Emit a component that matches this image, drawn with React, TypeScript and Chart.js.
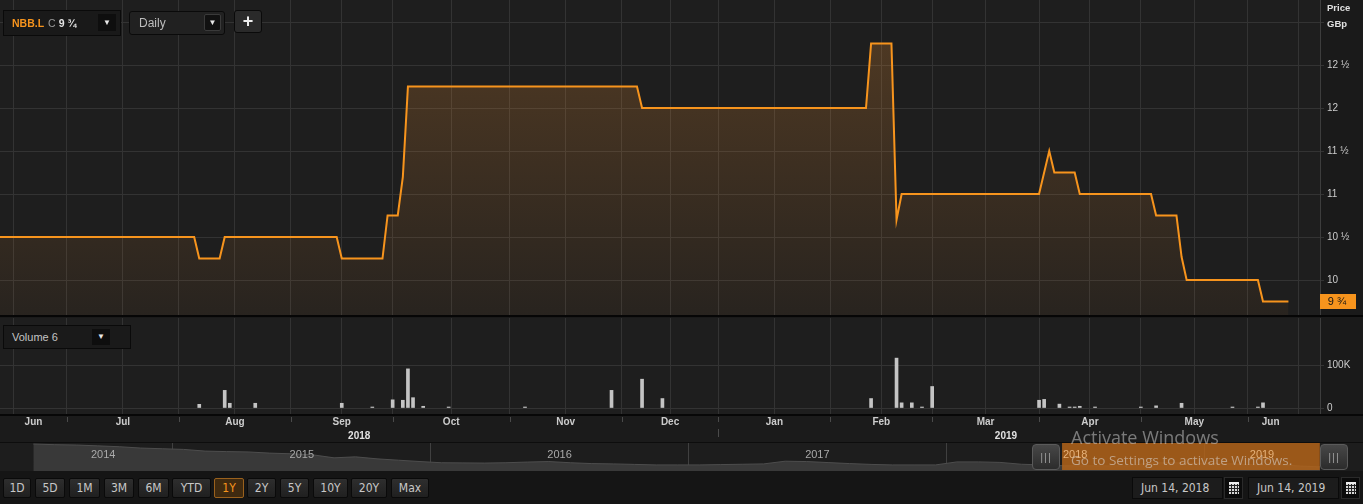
import React, { useEffect, useRef } from "react";
import { Chart, registerables } from "chart.js";

Chart.register(...registerables);

// ---------- calendar (LSE trading days) ----------
const HOLIDAYS = ["2018-08-27", "2018-12-25", "2018-12-26", "2019-01-01", "2019-04-19", "2019-04-22", "2019-05-06", "2019-05-27"];
const CAL_FIRST = "2018-06-01";
const CAL_LAST = "2019-07-31";
const RANGE_START = "2018-06-14";
const RANGE_END = "2019-06-14";

const MONTH_STARTS = ["2018-06-01", "2018-07-01", "2018-08-01", "2018-09-01", "2018-10-01", "2018-11-01", "2018-12-01", "2019-01-01", "2019-02-01", "2019-03-01", "2019-04-01", "2019-05-01", "2019-06-01", "2019-07-01"];
const MONTH_NAMES = ["Jun", "Jul", "Aug", "Sep", "Oct", "Nov", "Dec", "Jan", "Feb", "Mar", "Apr", "May", "Jun"];
const YEAR_STARTS = ["2018-01-01", "2019-01-01", "2020-01-01"];
const YEAR_NAMES = ["2018", "2019"];

// ---------- price (GBp) ----------
const priceDates = ["2018-06-12", "2018-08-06", "2018-08-07", "2018-08-13", "2018-08-14", "2018-09-14", "2018-09-17", "2018-09-27", "2018-09-28", "2018-10-02", "2018-10-03", "2018-10-04", "2018-12-06", "2018-12-07", "2019-02-12", "2019-02-13", "2019-02-19", "2019-02-20", "2019-02-21", "2019-04-01", "2019-04-03", "2019-04-04", "2019-04-10", "2019-04-11", "2019-05-03", "2019-05-07", "2019-05-13", "2019-05-14", "2019-05-15", "2019-06-05", "2019-06-06", "2019-06-13"];
const priceValues = [10.5, 10.5, 10.25, 10.25, 10.5, 10.5, 10.25, 10.25, 10.75, 10.75, 11.2, 12.25, 12.25, 12.0, 12.0, 12.75, 12.75, 10.7, 11.0, 11.0, 11.5, 11.25, 11.25, 11.0, 11.0, 10.75, 10.75, 10.27, 10.0, 10.0, 9.75, 9.75];
const priceTicks = [10, 10.5, 11, 11.5, 12, 12.5, 13];

// ---------- volume ----------
const volumeDates = ["2018-08-07", "2018-08-14", "2018-08-15", "2018-08-22", "2018-09-17", "2018-09-25", "2018-10-01", "2018-10-03", "2018-10-04", "2018-10-05", "2018-10-09", "2018-10-16", "2018-11-06", "2018-11-29", "2018-12-07", "2018-12-13", "2019-02-13", "2019-02-20", "2019-02-21", "2019-02-25", "2019-02-27", "2019-03-01", "2019-04-01", "2019-04-02", "2019-04-05", "2019-04-09", "2019-04-10", "2019-04-11", "2019-04-16", "2019-05-01", "2019-05-07", "2019-05-14", "2019-05-29", "2019-06-05", "2019-06-06"];
const volumeValues = [8600, 41000, 11000, 11000, 11000, 1000, 19000, 18000, 91000, 24000, 4000, 2000, 600, 41000, 67000, 22000, 22000, 116000, 12000, 12000, 1500, 50000, 18000, 20000, 9000, 2000, 1500, 4000, 1500, 1500, 5000, 11000, 2000, 1500, 12000];
const volumeTicks = [0, 100000];

// ---------- navigator (full history, GBp) ----------
const navMonths = [
  "2014-06", "2014-07", "2014-08", "2014-09", "2014-10", "2014-11", "2014-12",
  "2015-01", "2015-02", "2015-03", "2015-04", "2015-05", "2015-06", "2015-07", "2015-08", "2015-09", "2015-10", "2015-11", "2015-12",
  "2016-01", "2016-02", "2016-03", "2016-04", "2016-05", "2016-06", "2016-07", "2016-08", "2016-09", "2016-10", "2016-11", "2016-12",
  "2017-01", "2017-02", "2017-03", "2017-04", "2017-05", "2017-06", "2017-07", "2017-08", "2017-09", "2017-10", "2017-11", "2017-12",
  "2018-01", "2018-02", "2018-03", "2018-04", "2018-05", "2018-06", "2018-07", "2018-08", "2018-09", "2018-10", "2018-11", "2018-12",
  "2019-01", "2019-02", "2019-03", "2019-04", "2019-05", "2019-06",
];
const navValues = [
  23.4, 23.0, 22.8, 22.3, 21.8, 21.0, 20.6,
  20.2, 19.2, 18.9, 18.7, 18.0, 17.6, 17.0, 15.2, 15.8, 14.6, 13.8, 13.0,
  12.3, 12.2, 12.1, 12.3, 12.7, 13.0, 12.3, 11.8, 11.6, 11.3, 11.0, 11.0,
  11.0, 11.2, 11.4, 11.6, 13.2, 13.0, 12.4, 11.8, 11.3, 11.0, 11.0, 11.0,
  12.8, 12.8, 12.5, 11.4, 11.0, 10.5, 10.5, 10.4, 10.4, 12.25, 12.25, 12.0,
  12.0, 11.5, 11.0, 11.1, 10.3, 9.8,
];
const navYears = ["2014", "2015", "2016", "2017", "2018", "2019"];

const rangeButtons = ["1D", "5D", "1M", "3M", "6M", "YTD", "1Y", "2Y", "5Y", "10Y", "20Y", "Max"];
const activeRange = "1Y";

// ---------- styling constants ----------
const ORANGE = "#f7941d";
const GRID = "#333333";
const LABEL = "#cccccc";
const FONT = '"Liberation Sans", Arial, sans-serif';
const NARROW = '"Liberation Sans Narrow", "DejaVu Sans Condensed", "Liberation Sans", sans-serif';
const X_MIN = -1.15;
const X_MAX = 258.2;
const P_MIN = 9.593;
const P_MAX = 13.256;
const V_MIN = -13950;
const V_MAX = 209300;
const NAV_MIN = 2014.329;
const NAV_MAX = 2019.45;
const NAV_YMIN = 7.4;
const NAV_YMAX = 24;

// ---------- helpers ----------
function buildCalendar(): string[] {
  const out: string[] = [];
  const d = new Date(CAL_FIRST + "T00:00:00Z");
  const end = new Date(CAL_LAST + "T00:00:00Z");
  while (d <= end) {
    const wd = d.getUTCDay();
    const s = d.toISOString().slice(0, 10);
    if (wd !== 0 && wd !== 6 && HOLIDAYS.indexOf(s) < 0) out.push(s);
    d.setUTCDate(d.getUTCDate() + 1);
  }
  return out;
}
const CAL = buildCalendar();
const BASE = CAL.indexOf(RANGE_START);
function tradeIdx(s: string): number {
  let i = CAL.findIndex((c) => c >= s);
  if (i < 0) i = CAL.length;
  return i - BASE;
}
const END_IDX = tradeIdx(RANGE_END);
const monthBounds = MONTH_STARTS.map(tradeIdx);
const gridVals: number[] = [];
for (let i = 0; i < monthBounds.length - 1; i++) {
  gridVals.push(monthBounds[i]);
  gridVals.push((monthBounds[i] + monthBounds[i + 1]) / 2);
}
const yearBounds = YEAR_STARTS.map(tradeIdx);

function fmtPrice(v: number): string {
  const whole = Math.floor(v + 1e-9);
  const frac = Math.round((v - whole) * 4);
  const f = ["", "¼", "½", "¾"][frac] || "";
  return f ? `${whole} ${f}` : `${whole}`;
}
function monthToYear(m: string): number {
  const [y, mo] = m.split("-").map(Number);
  return y + (mo - 0.5) / 12;
}
function dateToYear(s: string): number {
  const d = new Date(s + "T00:00:00Z");
  const y = d.getUTCFullYear();
  const start = Date.UTC(y, 0, 1);
  const next = Date.UTC(y + 1, 0, 1);
  return y + (d.getTime() - start) / (next - start);
}
function noPad(s: any) {
  s.paddingTop = 0;
  s.paddingBottom = 0;
  s.paddingLeft = 0;
  s.paddingRight = 0;
}

// ---------- plugins ----------
const pricePanelPlugin = {
  id: "pricePanel",
  beforeDraw(chart: any) {
    const { ctx, chartArea: ca, width, height } = chart;
    ctx.save();
    ctx.fillStyle = "#1a1a1a";
    ctx.fillRect(0, 0, width, height);
    ctx.fillStyle = "#1e1e1e";
    ctx.fillRect(ca.left, ca.top, ca.right - ca.left, ca.bottom - ca.top);
    ctx.restore();
  },
  afterDraw(chart: any) {
    const { ctx, chartArea: ca } = chart;
    const last = priceValues[priceValues.length - 1];
    const y = chart.scales.y.getPixelForValue(last);
    ctx.save();
    ctx.fillStyle = ORANGE;
    ctx.fillRect(ca.right, Math.round(y) - 7, 36, 15);
    ctx.fillStyle = "#151515";
    ctx.font = `11px ${FONT}`;
    ctx.textAlign = "center";
    ctx.textBaseline = "middle";
    ctx.fillText(fmtPrice(last), ca.right + 17, Math.round(y) + 0.5);
    ctx.restore();
  },
};

const volumePanelPlugin = {
  id: "volumePanel",
  beforeDraw(chart: any) {
    const { ctx, chartArea: ca, width, height } = chart;
    ctx.save();
    ctx.fillStyle = "#1a1a1a";
    ctx.fillRect(0, 0, width, height);
    ctx.fillStyle = "#1e1e1e";
    ctx.fillRect(ca.left, ca.top, ca.right - ca.left, ca.bottom - ca.top);
    ctx.restore();
  },
  afterDraw(chart: any) {
    const { ctx, chartArea: ca, width, height } = chart;
    const xs = chart.scales.x;
    const b = ca.bottom;
    ctx.save();
    ctx.fillStyle = "#1b1b1b";
    ctx.fillRect(0, b, width, height - b);
    ctx.fillStyle = "#070707";
    ctx.fillRect(0, b, width, 2);
    ctx.fillStyle = "#0d0d0d";
    ctx.fillRect(0, height - 1, width, 1);
    ctx.strokeStyle = "#4a4a4a";
    ctx.lineWidth = 1;
    monthBounds.forEach((m) => {
      if (m <= X_MIN || m >= X_MAX) return;
      const px = Math.round(xs.getPixelForValue(m)) + 0.5;
      ctx.beginPath();
      ctx.moveTo(px, b + 3);
      ctx.lineTo(px, b + 8);
      ctx.stroke();
    });
    ctx.fillStyle = LABEL;
    ctx.font = `bold 10px ${FONT}`;
    ctx.textAlign = "center";
    ctx.textBaseline = "middle";
    for (let i = 0; i < MONTH_NAMES.length; i++) {
      const s = Math.max(monthBounds[i], X_MIN);
      const e = Math.min(monthBounds[i + 1], END_IDX);
      if (e <= s) continue;
      ctx.fillText(MONTH_NAMES[i], xs.getPixelForValue((s + e) / 2), b + 8.5);
    }
    yearBounds.forEach((yb) => {
      if (yb <= X_MIN || yb >= X_MAX) return;
      const px = Math.round(xs.getPixelForValue(yb)) + 0.5;
      ctx.strokeStyle = "#4a4a4a";
      ctx.beginPath();
      ctx.moveTo(px, b + 15);
      ctx.lineTo(px, b + 23);
      ctx.stroke();
    });
    ctx.fillStyle = "#e2e2e2";
    ctx.font = `bold 10px ${FONT}`;
    for (let i = 0; i < YEAR_NAMES.length; i++) {
      const s = Math.max(yearBounds[i], X_MIN);
      const e = Math.min(yearBounds[i + 1], END_IDX);
      if (e <= s) continue;
      ctx.fillText(YEAR_NAMES[i], xs.getPixelForValue((s + e) / 2), b + 22);
    }
    ctx.restore();
  },
};

const navPlugin = {
  id: "navPanel",
  beforeDraw(chart: any) {
    const { ctx, width, height } = chart;
    ctx.save();
    ctx.fillStyle = "#1d1d1d";
    ctx.fillRect(0, 0, width, height);
    ctx.restore();
  },
  afterDatasetsDraw(chart: any) {
    const { ctx, chartArea: ca } = chart;
    const xs = chart.scales.x;
    const x0 = xs.getPixelForValue(dateToYear(RANGE_START));
    const x1 = Math.min(xs.getPixelForValue(dateToYear(RANGE_END)), ca.right);
    ctx.save();
    ctx.fillStyle = "rgba(180,100,25,0.84)";
    ctx.fillRect(x0, 0, x1 - x0, chart.height - 1);
    ctx.restore();
  },
  afterDraw(chart: any) {
    const { ctx } = chart;
    const xs = chart.scales.x;
    const first = monthToYear(navMonths[0]);
    const selStart = dateToYear(RANGE_START);
    ctx.save();
    ctx.font = `11px ${FONT}`;
    ctx.textAlign = "center";
    ctx.textBaseline = "middle";
    navYears.forEach((y) => {
      const yr = Number(y);
      const s = Math.max(yr, first, NAV_MIN);
      const e = Math.min(yr + 1, NAV_MAX);
      if (e <= s) return;
      const c = (s + e) / 2;
      ctx.fillStyle = c > selStart ? "#e6b27a" : "#a9a9a9";
      ctx.fillText(y, xs.getPixelForValue(c), 12);
    });
    ctx.restore();
  },
};

// ---------- components ----------
function PriceChart() {
  const ref = useRef<HTMLCanvasElement | null>(null);
  useEffect(() => {
    if (!ref.current) return;
    const chart = new Chart(ref.current, {
      type: "line",
      data: {
        datasets: [
          {
            data: priceDates.map((d, i) => ({ x: tradeIdx(d), y: priceValues[i] })),
            borderColor: ORANGE,
            borderWidth: 2,
            pointRadius: 0,
            tension: 0,
            fill: "start",
            backgroundColor: (c: any) => {
              const ch = c.chart;
              const ca = ch.chartArea;
              if (!ca) return "rgba(230,140,50,0.15)";
              const g = ch.ctx.createLinearGradient(0, ca.top + 40, 0, ca.bottom);
              g.addColorStop(0, "rgba(230,140,50,0.24)");
              g.addColorStop(1, "rgba(230,140,50,0.05)");
              return g;
            },
          },
        ],
      },
      options: {
        animation: false,
        responsive: false,
        maintainAspectRatio: false,
        layout: { padding: 0 },
        plugins: { legend: { display: false }, tooltip: { enabled: false } },
        scales: {
          x: {
            type: "linear",
            min: X_MIN,
            max: X_MAX,
            afterBuildTicks: (s: any) => {
              s.ticks = gridVals.filter((v) => v > X_MIN && v < X_MAX).map((v) => ({ value: v }));
            },
            afterFit: (s: any) => {
              s.height = 0;
              noPad(s);
            },
            grid: { color: GRID, drawTicks: false },
            ticks: { display: false },
            border: { display: false },
          },
          y: {
            position: "right",
            min: P_MIN,
            max: P_MAX,
            afterBuildTicks: (s: any) => {
              s.ticks = priceTicks.map((v) => ({ value: v }));
            },
            afterFit: (s: any) => {
              s.width = 43;
              noPad(s);
            },
            grid: { color: GRID, tickLength: 4 },
            border: { color: "#3d3d3d" },
            ticks: {
              color: LABEL,
              font: { family: FONT, size: 10 },
              padding: 3,
              callback: (v: any) => (Number(v) >= 13 ? "" : fmtPrice(Number(v))),
            },
          },
        },
      } as any,
      plugins: [pricePanelPlugin],
    });
    return () => chart.destroy();
  }, []);
  return <canvas ref={ref} width={1363} height={315} style={{ position: "absolute", left: 0, top: 0, width: 1363, height: 315 }} />;
}

function VolumeChart() {
  const ref = useRef<HTMLCanvasElement | null>(null);
  useEffect(() => {
    if (!ref.current) return;
    const chart = new Chart(ref.current, {
      type: "bar",
      data: {
        datasets: [
          {
            data: volumeDates.map((d, i) => ({ x: tradeIdx(d), y: volumeValues[i] })),
            backgroundColor: "#c4c4c4",
            barThickness: 3,
            minBarLength: 1,
          },
        ],
      },
      options: {
        animation: false,
        responsive: false,
        maintainAspectRatio: false,
        layout: { padding: { top: 1, left: 0, right: 0, bottom: 0 } },
        plugins: { legend: { display: false }, tooltip: { enabled: false } },
        scales: {
          x: {
            type: "linear",
            min: X_MIN,
            max: X_MAX,
            offset: false,
            afterBuildTicks: (s: any) => {
              s.ticks = gridVals.filter((v) => v > X_MIN && v < X_MAX).map((v) => ({ value: v }));
            },
            afterFit: (s: any) => {
              s.height = 29;
              noPad(s);
            },
            grid: { color: GRID, drawTicks: false, offset: false },
            ticks: { display: false },
            border: { display: false },
          },
          y: {
            position: "right",
            min: V_MIN,
            max: V_MAX,
            afterBuildTicks: (s: any) => {
              s.ticks = volumeTicks.map((v) => ({ value: v }));
            },
            afterFit: (s: any) => {
              s.width = 43;
              noPad(s);
            },
            grid: { color: GRID, tickLength: 4 },
            border: { color: "#3d3d3d" },
            ticks: {
              color: LABEL,
              font: { family: FONT, size: 10 },
              padding: 3,
              callback: (v: any) => (Number(v) === 0 ? "0" : `${Math.round(Number(v) / 1000)}K`),
            },
          },
        },
      } as any,
      plugins: [volumePanelPlugin],
    });
    return () => chart.destroy();
  }, []);
  return <canvas ref={ref} width={1363} height={126} style={{ position: "absolute", left: 0, top: 317, width: 1363, height: 126 }} />;
}

function NavChart() {
  const ref = useRef<HTMLCanvasElement | null>(null);
  useEffect(() => {
    if (!ref.current) return;
    const chart = new Chart(ref.current, {
      type: "line",
      data: {
        datasets: [
          {
            data: navMonths.map((m, i) => ({ x: monthToYear(m), y: navValues[i] })),
            borderColor: "#4d4d4d",
            borderWidth: 1,
            backgroundColor: "#393939",
            fill: "start",
            pointRadius: 0,
            tension: 0,
          },
        ],
      },
      options: {
        animation: false,
        responsive: false,
        maintainAspectRatio: false,
        layout: { padding: 0 },
        plugins: { legend: { display: false }, tooltip: { enabled: false } },
        scales: {
          x: {
            type: "linear",
            min: NAV_MIN,
            max: NAV_MAX,
            afterBuildTicks: (s: any) => {
              s.ticks = navYears.map(Number).filter((v) => v > NAV_MIN && v < NAV_MAX).map((v) => ({ value: v }));
            },
            afterFit: (s: any) => {
              s.height = 0;
              noPad(s);
            },
            grid: { color: "#404040", drawTicks: false },
            ticks: { display: false },
            border: { display: false },
          },
          y: { display: false, min: NAV_YMIN, max: NAV_YMAX },
        },
      } as any,
      plugins: [navPlugin],
    });
    return () => chart.destroy();
  }, []);
  return <canvas ref={ref} width={1320} height={28} style={{ position: "absolute", left: 0, top: 443, width: 1320, height: 28 }} />;
}

function Arrow({ left, top, w, h }: { left: number; top: number; w: number; h: number }) {
  return (
    <div
      style={{
        position: "absolute",
        left,
        top,
        width: w,
        height: h,
        background: "#0e0e0e",
        color: "#e8e8e8",
        fontSize: 8,
        lineHeight: `${h}px`,
        textAlign: "center",
      }}
    >
      ▼
    </div>
  );
}

function Handle({ left }: { left: number }) {
  return (
    <div
      style={{
        position: "absolute",
        left,
        top: 444,
        width: 28,
        height: 26,
        boxSizing: "border-box",
        background: "linear-gradient(#474747, #2c2c2c)",
        border: "1px solid #5a5a5a",
        borderRadius: 4,
        color: "#9a9a9a",
        fontSize: 11,
        lineHeight: "24px",
        textAlign: "center",
        fontFamily: FONT,
        letterSpacing: 1,
      }}
    >
      |||
    </div>
  );
}

function CalIcon({ left }: { left: number }) {
  return (
    <div style={{ position: "absolute", left, top: 477, width: 19, height: 22, background: "#0b0b0b", border: "1px solid #2a2a2a", boxSizing: "border-box" }}>
      <div
        style={{
          position: "absolute",
          left: 4,
          top: 4,
          width: 10,
          height: 12,
          background: "#d8d8d8",
          backgroundImage:
            "repeating-linear-gradient(90deg, transparent 0 2px, #222 2px 3px), repeating-linear-gradient(0deg, transparent 0 2px, #222 2px 3px)",
          borderTop: "2px solid #eee",
          boxSizing: "border-box",
        }}
      />
    </div>
  );
}

const buttonWidths = [28, 30, 31, 30, 31, 39, 30, 29, 29, 35, 36, 38];
const buttonLefts = [3, 35, 69, 104, 138, 172, 214, 247, 280, 313, 351, 391];

export default function App() {
  return (
    <div
      style={{
        position: "relative",
        width: 1363,
        height: 504,
        overflow: "hidden",
        background: "#1a1a1a",
        fontFamily: FONT,
      }}
    >
      <style>{`body{margin:0;background:#1a1a1a;}`}</style>
      <PriceChart />
      <div style={{ position: "absolute", left: 0, top: 315, width: 1363, height: 2, background: "#060606" }} />
      <VolumeChart />
      <NavChart />
      <div style={{ position: "absolute", left: 1320, top: 443, width: 43, height: 28, background: "#1d1d1d" }} />
      <Handle left={1032} />
      <Handle left={1320} />

      {/* top toolbar */}
      <div style={{ position: "absolute", left: 3, top: 10, width: 118, height: 26, boxSizing: "border-box", background: "#191919", border: "1px solid #0a0a0a" }}>
        <div style={{ position: "absolute", left: 8, top: 0, lineHeight: "24px", fontSize: 10.5, whiteSpace: "nowrap" }}>
          <span style={{ color: ORANGE, fontWeight: "bold" }}>NBB.L</span>
          <span style={{ color: "#9a9a9a", marginLeft: 4 }}>C</span>
          <span style={{ color: "#e4e4e4", fontWeight: "bold", marginLeft: 3 }}>9 ¾</span>
        </div>
      </div>
      <Arrow left={98} top={14} w={18} h={17} />
      <div style={{ position: "absolute", left: 129, top: 11, width: 96, height: 24, boxSizing: "border-box", background: "#212121", border: "1px solid #0a0a0a", borderRadius: 3 }}>
        <div style={{ position: "absolute", left: 9, top: 0, lineHeight: "22px", fontSize: 12, color: "#bdbdbd" }}>Daily</div>
      </div>
      <div style={{ position: "absolute", left: 204, top: 14, width: 17, height: 17, boxSizing: "border-box", background: "#111", border: "1px solid #3a3a3a", borderRadius: 2, color: "#e8e8e8", fontSize: 8, lineHeight: "15px", textAlign: "center" }}>▼</div>
      <div style={{ position: "absolute", left: 234, top: 10, width: 28, height: 23, boxSizing: "border-box", background: "#2a2a2a", border: "1px solid #0a0a0a", borderRadius: 3, color: "#eeeeee", fontSize: 18, fontWeight: "bold", lineHeight: "20px", textAlign: "center" }}>+</div>

      {/* price axis header */}
      <div style={{ position: "absolute", left: 1327, top: 2, fontSize: 9.5, fontWeight: "bold", color: "#e0e0e0", lineHeight: "11px" }}>Price</div>
      <div style={{ position: "absolute", left: 1327, top: 18, fontSize: 9.5, fontWeight: "bold", color: "#e0e0e0", lineHeight: "11px" }}>GBp</div>

      {/* volume legend */}
      <div style={{ position: "absolute", left: 3, top: 325, width: 128, height: 24, boxSizing: "border-box", background: "#1a1a1a", border: "1px solid #0a0a0a" }}>
        <div style={{ position: "absolute", left: 8, top: 0, lineHeight: "22px", fontSize: 11, color: "#c4c4c4" }}>Volume 6</div>
      </div>
      <Arrow left={92} top={329} w={18} h={16} />

      {/* bottom bar */}
      <div style={{ position: "absolute", left: 0, top: 471, width: 1363, height: 33, background: "#151515" }} />
      {rangeButtons.map((b, i) => {
        const active = b === activeRange;
        return (
          <div
            key={b}
            style={{
              position: "absolute",
              left: buttonLefts[i],
              top: 478,
              width: buttonWidths[i],
              height: 20,
              boxSizing: "border-box",
              background: active ? "#3f2a10" : "linear-gradient(#2e2e2e, #202020)",
              border: active ? "1px solid #9a611d" : "1px solid #0a0a0a",
              borderRadius: 2,
              color: active ? ORANGE : "#c8c8c8",
              fontFamily: NARROW,
              fontSize: 12,
              lineHeight: "18px",
              textAlign: "center",
            }}
          >
            {b}
          </div>
        );
      })}
      <div style={{ position: "absolute", left: 1132, top: 477, width: 91, height: 22, boxSizing: "border-box", background: "#1c1c1c", border: "1px solid #0a0a0a", color: "#c8c8c8", fontSize: 12, lineHeight: "20px", paddingLeft: 8, fontFamily: NARROW }}>Jun 14, 2018</div>
      <CalIcon left={1224} />
      <div style={{ position: "absolute", left: 1248, top: 477, width: 91, height: 22, boxSizing: "border-box", background: "#1c1c1c", border: "1px solid #0a0a0a", color: "#c8c8c8", fontSize: 12, lineHeight: "20px", paddingLeft: 8, fontFamily: NARROW }}>Jun 14, 2019</div>
      <CalIcon left={1341} />

      {/* OS watermark visible in the reference */}
      <div style={{ position: "absolute", left: 1071, top: 425, fontFamily: '"Open Sans", "Noto Sans", sans-serif', fontSize: 18, color: "rgba(200,200,200,0.55)", whiteSpace: "nowrap", lineHeight: "24px" }}>Activate Windows</div>
      <div style={{ position: "absolute", left: 1071, top: 451, fontFamily: '"Open Sans", "Noto Sans", sans-serif', fontSize: 13.5, color: "rgba(220,220,220,0.55)", whiteSpace: "nowrap", lineHeight: "18px" }}>Go to Settings to activate Windows.</div>
    </div>
  );
}
